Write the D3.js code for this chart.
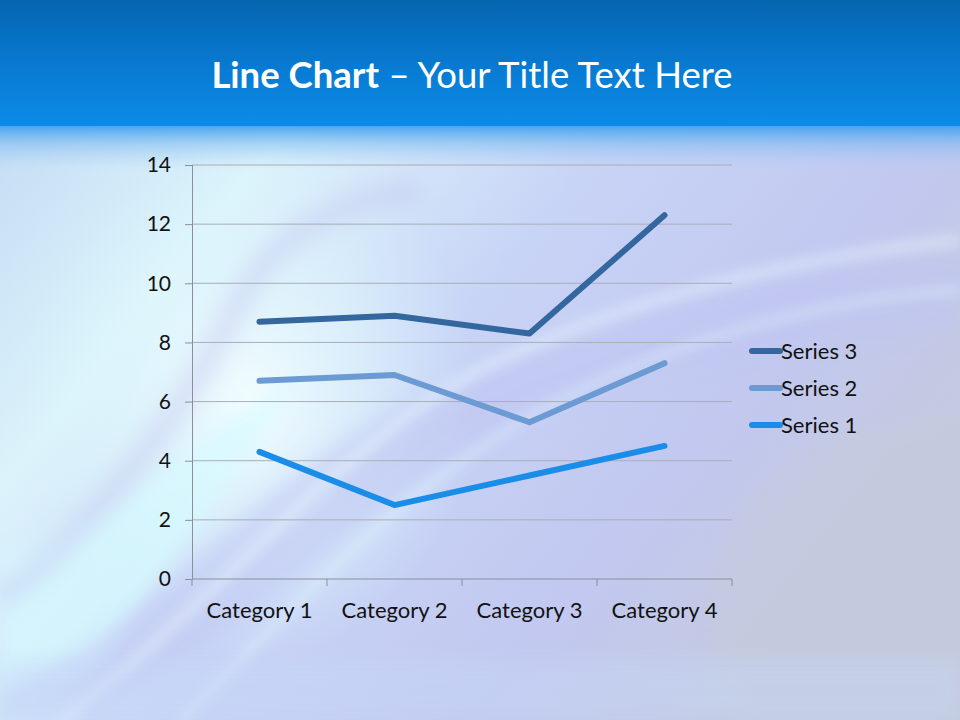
<!DOCTYPE html>
<html><head><meta charset="utf-8">
<script src="https://cdn.jsdelivr.net/npm/d3@7"></script>
<style>html,body{margin:0;padding:0;overflow:hidden;background:#c8d4f0}svg{display:block}</style>
</head><body>
<script>
const categories = ["Category 1", "Category 2", "Category 3", "Category 4"];
const series1 = [4.3, 2.5, 3.5, 4.5];
const series2 = [2.4, 4.4, 1.8, 2.8];
const series3 = [2, 2, 3, 5];
const seriesNames = ["Series 1", "Series 2", "Series 3"];
const seriesColors = ["#1a8de8", "#6b9bd2", "#33679e"];
const yTicks = [0, 2, 4, 6, 8, 10, 12, 14];

(function () {
const W = 960, H = 720;
const svg = d3.select("body").append("svg").attr("width", W).attr("height", H);
const defs = svg.append("defs");

const bg = defs.append("linearGradient").attr("id","bg").attr("x1","0").attr("y1","0").attr("x2","1").attr("y2","0.6");
bg.append("stop").attr("offset","0").attr("stop-color","#bcd4f2");
bg.append("stop").attr("offset","0.3").attr("stop-color","#dcf3fb");
bg.append("stop").attr("offset","0.55").attr("stop-color","#c8d4f6");
bg.append("stop").attr("offset","0.8").attr("stop-color","#c2c8f0");
bg.append("stop").attr("offset","1").attr("stop-color","#c4cadf");
svg.append("rect").attr("width",W).attr("height",H).attr("fill","url(#bg)");

const spot = defs.append("radialGradient").attr("id","spot").attr("cx","0.5").attr("cy","0.5").attr("r","0.5");
spot.append("stop").attr("offset","0").attr("stop-color","#f4feff").attr("stop-opacity","0.95");
spot.append("stop").attr("offset","0.5").attr("stop-color","#e2f8fd").attr("stop-opacity","0.6");
spot.append("stop").attr("offset","1").attr("stop-color","#d8f4fb").attr("stop-opacity","0");
svg.append("ellipse").attr("cx",250).attr("cy",400).attr("rx",230).attr("ry",260).attr("fill","url(#spot)");

const blur = defs.append("filter").attr("id","blur").attr("x","-20%").attr("y","-20%").attr("width","140%").attr("height","140%");
blur.append("feGaussianBlur").attr("stdDeviation", 10);
const blur2 = defs.append("filter").attr("id","blur2").attr("x","-20%").attr("y","-20%").attr("width","140%").attr("height","140%");
blur2.append("feGaussianBlur").attr("stdDeviation", 6);

svg.append("path").attr("d","M0,720 L0,560 C120,520 200,430 300,380 C200,520 120,640 60,720 Z")
  .attr("fill","#d6fbff").attr("opacity",0.7).attr("filter","url(#blur)");
svg.append("path").attr("d","M0,690 C150,640 250,470 420,400 C560,340 700,290 960,260 L960,330 C720,340 600,380 470,450 C330,530 200,680 60,720 L0,720 Z")
  .attr("fill","#bfc4f2").attr("opacity",0.5).attr("filter","url(#blur)");
svg.append("path").attr("d","M60,720 C200,620 330,450 480,370 C620,300 780,260 960,240")
  .attr("fill","none").attr("stroke","#eefbff").attr("stroke-width",12).attr("opacity",0.4).attr("filter","url(#blur2)");
svg.append("path").attr("d","M180,720 C300,600 420,470 560,400 C700,330 830,300 960,290")
  .attr("fill","none").attr("stroke","#e6fbff").attr("stroke-width",10).attr("opacity",0.35).attr("filter","url(#blur2)");
svg.append("path").attr("d","M0,600 C100,520 180,420 240,300 C280,230 340,200 420,190")
  .attr("fill","none").attr("stroke","#c4c6ef").attr("stroke-width",26).attr("opacity",0.4).attr("filter","url(#blur)");
svg.append("ellipse").attr("cx",930).attr("cy",620).attr("rx",220).attr("ry",200).attr("fill","#c5cbdd").attr("opacity",0.6).attr("filter","url(#blur)");
svg.append("rect").attr("x",0).attr("y",660).attr("width",W).attr("height",60).attr("fill","#c6d8f8").attr("opacity",0.4).attr("filter","url(#blur)");

const band = defs.append("linearGradient").attr("id","band").attr("x1","0").attr("y1","0").attr("x2","0").attr("y2","1");
band.append("stop").attr("offset","0").attr("stop-color","#0566b0");
band.append("stop").attr("offset","0.5").attr("stop-color","#0879d0");
band.append("stop").attr("offset","1").attr("stop-color","#0b8ce8");
svg.append("rect").attr("width",W).attr("height",126).attr("fill","url(#band)");
const fade = defs.append("linearGradient").attr("id","fade").attr("x1","0").attr("y1","0").attr("x2","0").attr("y2","1");
fade.append("stop").attr("offset","0").attr("stop-color","#3a9ff0").attr("stop-opacity","0.9");
fade.append("stop").attr("offset","0.4").attr("stop-color","#6fb4f0").attr("stop-opacity","0.5");
fade.append("stop").attr("offset","1").attr("stop-color","#a8d0f4").attr("stop-opacity","0");
svg.append("rect").attr("y",126).attr("width",W).attr("height",44).attr("fill","url(#fade)");

const title = svg.append("text").attr("x",472).attr("y",88).attr("text-anchor","middle")
  .attr("fill","#ffffff").style("font-family","Lato, 'Open Sans', sans-serif").style("font-size","36.5px");
title.append("tspan").attr("font-weight","bold").text("Line Chart");
title.append("tspan").text(" \u2013 Your Title Text Here");

const x0 = 192, x1 = 732, yTop = 165, yBot = 579;
const x = d3.scaleBand().domain(categories).range([x0, x1]);
const y = d3.scaleLinear().domain([0, 14]).range([yBot, yTop]);
const font = "Lato, 'Open Sans', sans-serif";

svg.append("g").selectAll("line").data(yTicks.filter(d => d > 0)).join("line")
  .attr("x1", x0).attr("x2", x1).attr("y1", d => y(d)).attr("y2", d => y(d))
  .attr("stroke", "#a9aeb6").attr("stroke-width", 1);

const yAxis = svg.append("g").attr("transform", `translate(${x0},0)`)
  .call(d3.axisLeft(y).tickValues(yTicks).tickSize(7).tickPadding(14));
yAxis.select(".domain").attr("stroke", "#8a8f98");
yAxis.selectAll(".tick line").attr("stroke", "#8a8f98");
yAxis.selectAll("text").attr("fill", "#111").style("font-family", font).style("font-size", "21px");

const xAxis = svg.append("g").attr("transform", `translate(0,${yBot})`)
  .call(d3.axisBottom(x).tickSize(0).tickPadding(23));
xAxis.select(".domain").attr("stroke", "#8a8f98").attr("d", `M${x0},0H${x1}`);
xAxis.selectAll("text").attr("fill", "#111").style("font-family", font).style("font-size", "22px");
xAxis.append("g").selectAll("line").data(d3.range(categories.length + 1)).join("line")
  .attr("x1", i => x0 + i * x.bandwidth()).attr("x2", i => x0 + i * x.bandwidth())
  .attr("y1", 0).attr("y2", 7).attr("stroke", "#8a8f98");

const rows = categories.map((c, i) => ({ cat: c, s1: series1[i], s2: series2[i], s3: series3[i] }));
const stacked = d3.stack().keys(["s1", "s2", "s3"])(rows);
const line = d3.line().x((d, i) => x(categories[i]) + x.bandwidth() / 2).y(d => y(d[1]));
svg.append("g").selectAll("path").data(stacked).join("path")
  .attr("d", d => line(d)).attr("fill", "none")
  .attr("stroke", (d, i) => seriesColors[i]).attr("stroke-width", 6)
  .attr("stroke-linecap", "round").attr("stroke-linejoin", "round");

const legendOrder = [2, 1, 0];
const lg = svg.append("g").selectAll("g").data(legendOrder).join("g")
  .attr("transform", (d, i) => `translate(752,${351 + i * 37})`);
lg.append("line").attr("x1", 0).attr("x2", 28).attr("y1", 0).attr("y2", 0)
  .attr("stroke", d => seriesColors[d]).attr("stroke-width", 6).attr("stroke-linecap", "round");
lg.append("text").attr("x", 29).attr("y", 7.5).attr("fill", "#111")
  .style("font-family", font).style("font-size", "22px").text(d => seriesNames[d]);
})();
</script>
</body></html>
